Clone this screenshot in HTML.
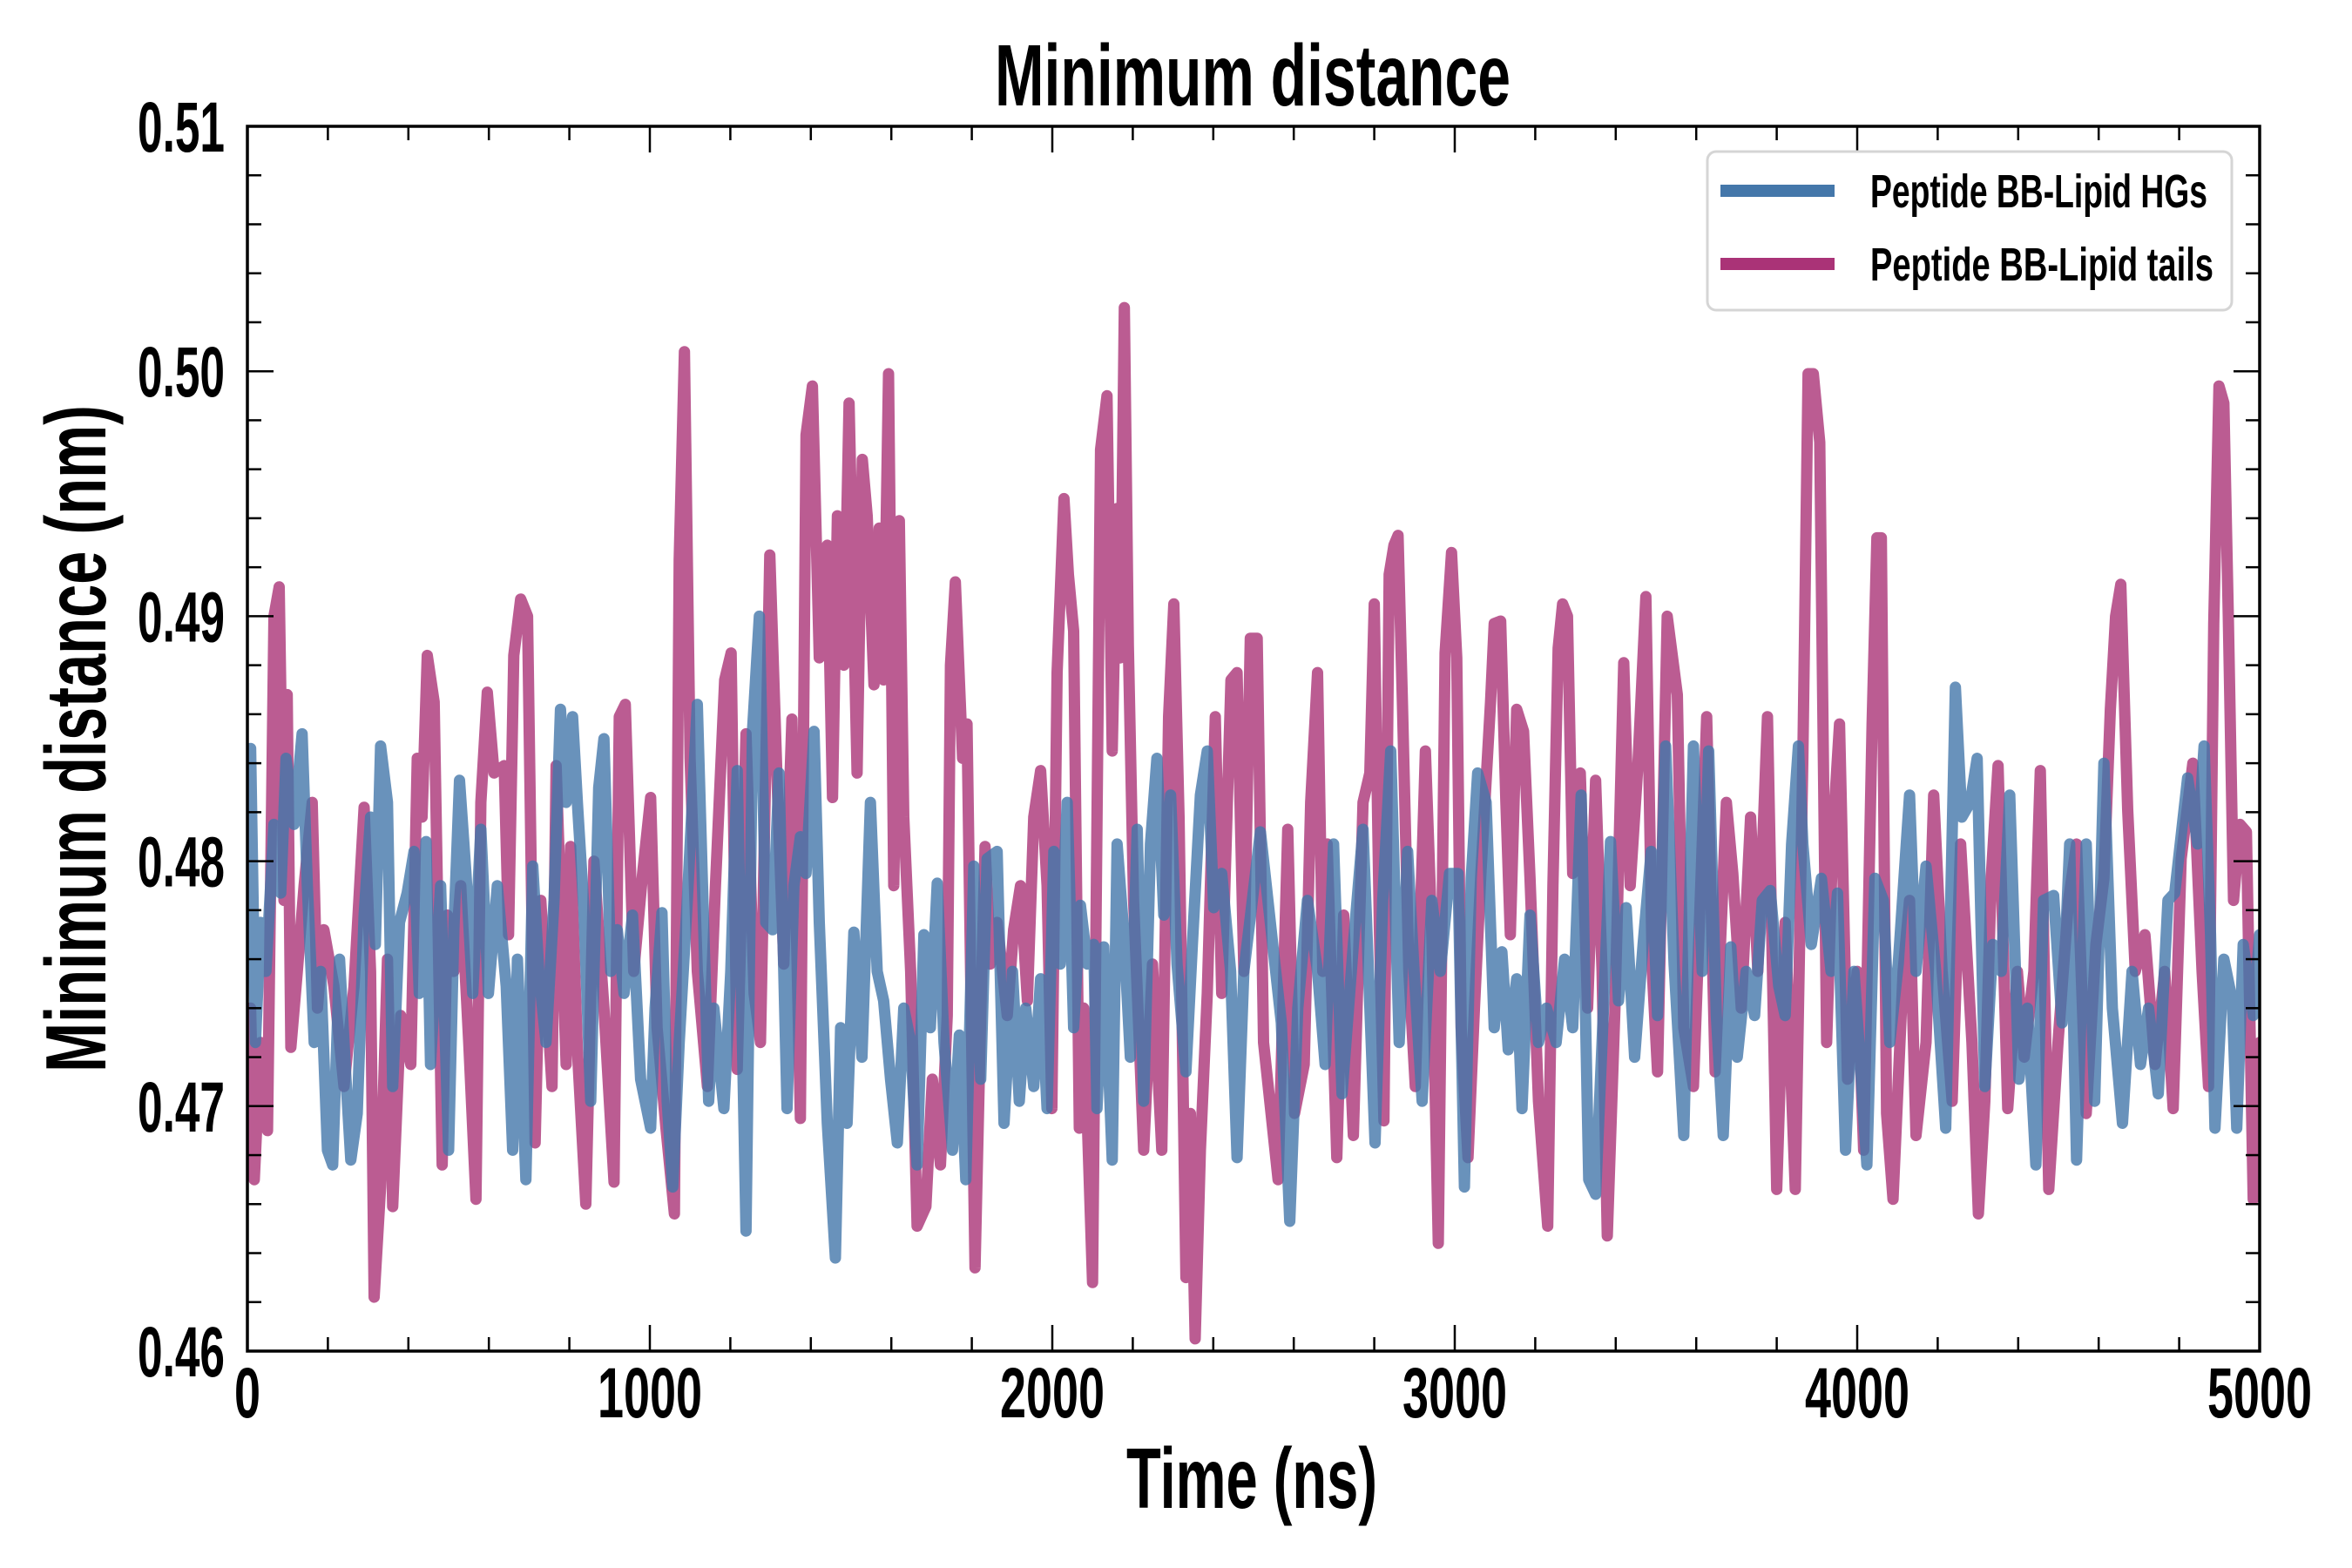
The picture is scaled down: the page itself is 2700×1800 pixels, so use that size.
<!DOCTYPE html>
<html><head><meta charset="utf-8"><style>
html,body{margin:0;padding:0;background:#fff;}
svg{display:block;}
text{font-family:"Liberation Sans Narrow","Liberation Sans",sans-serif;font-weight:bold;fill:#000;}
</style></head><body>
<svg id="chart" width="2700" height="1800" viewBox="0 0 2700 1800" xmlns="http://www.w3.org/2000/svg">
<defs><clipPath id="plotclip"><rect x="284" y="145" width="2310" height="1406"/></clipPath></defs>
<rect x="0" y="0" width="2700" height="1800" fill="#fff"/>
<text x="1142" y="121" font-size="100" textLength="592" lengthAdjust="spacingAndGlyphs">Minimum distance</text>
<text x="1293" y="1731" font-size="98" textLength="288" lengthAdjust="spacingAndGlyphs">Time (ns)</text>
<text transform="translate(121,1231) rotate(-90)" x="0" y="0" font-size="98" textLength="766" lengthAdjust="spacingAndGlyphs">Minimum distance (nm)</text>
<g id="series" clip-path="url(#plotclip)"></g>
<g id="axes"></g>
<g>
<rect x="1960" y="174" width="602" height="182" rx="10" fill="#fff" fill-opacity="0.85" stroke="#d5d5d5" stroke-width="3"/>
<line x1="1975" y1="219" x2="2106" y2="219" stroke="#4477aa" stroke-width="14"/>
<text x="2147" y="238" font-size="54" textLength="387" lengthAdjust="spacingAndGlyphs">Peptide BB-Lipid HGs</text>
<line x1="1975" y1="303" x2="2106" y2="303" stroke="#aa3377" stroke-width="14"/>
<text x="2147" y="322" font-size="54" textLength="394" lengthAdjust="spacingAndGlyphs">Peptide BB-Lipid tails</text>
</g>
</svg>
<script>
const xTicks = [0, 1000, 2000, 3000, 4000, 5000];
const xTickLabels = ["0", "1000", "2000", "3000", "4000", "5000"];
const yTicks = [0.46, 0.47, 0.48, 0.49, 0.50, 0.51];
const yTickLabels = ["0.46", "0.47", "0.48", "0.49", "0.50", "0.51"];

const tailsTime = [8,17,33,50,66,79,91,99,108,124,141,161,174,190,215,240,265,290,306,315,331,348,361,381,406,422,434,447,464,484,497,513,530,550,568,580,596,613,638,649,662,679,696,715,729,745,757,767,792,803,820,841,861,886,911,924,939,960,982,1002,1018,1040,1061,1073,1086,1100,1118,1143,1163,1186,1202,1217,1239,1259,1275,1298,1318,1333,1353,1374,1388,1404,1421,1441,1454,1466,1482,1495,1515,1528,1540,1557,1570,1581,1593,1606,1620,1631,1648,1664,1686,1702,1722,1739,1747,1759,1777,1788,1797,1808,1822,1833,1846,1863,1888,1904,1921,1938,1954,1971,1987,1999,2012,2029,2040,2053,2067,2078,2100,2120,2136,2149,2161,2169,2179,2189,2202,2227,2249,2272,2289,2302,2315,2332,2343,2355,2368,2385,2405,2421,2444,2459,2476,2492,2509,2525,
2561,2585,2602,2626,2642,2659,2672,2683,2707,2724,2748,2772,2789,2800,2813,2824,2837,2849,2859,2870,2886,2902,2927,2943,2959,2976,2992,3005,3016,3033,3049,3065,3089,3098,3114,3127,3138,3154,3171,3187,3208,3231,3244,3257,3268,3280,3293,3312,3330,3350,3366,3379,3398,3420,3436,3455,3475,3491,3504,3528,3553,3569,3593,3610,3626,3647,3675,3691,3712,3735,3753,3777,3800,3821,3846,3865,3878,3891,3907,3924,3940,3956,3976,4000,4016,4037,4049,4060,4073,4089,4114,4130,4146,4171,4190,4211,4236,4257,4285,4301,4317,4333,4350,4374,4398,4415,4439,4455,4476,4499,4525,4545,4569,4593,4613,4629,4642,4655,4672,4691,4715,4740,4764,4785,4805,4834,4857,4873,4886,4899,4911,4922,4935,4951,4967,4984,5000];
const tailsValues = [0.474,0.467,0.4726,0.469,0.490,0.4912,0.4784,0.4868,0.4724,0.4755,0.479,0.4824,0.474,0.4772,0.4749,0.4708,0.4749,0.4822,0.4755,0.4622,0.4667,0.4760,0.4659,0.4737,0.4717,0.4842,0.4818,0.4884,0.4865,0.4676,0.4778,0.4755,0.479,0.4726,0.4662,0.4824,0.4869,0.4836,0.4839,0.4770,0.4884,0.4907,0.4900,0.4685,0.4784,0.474,0.4708,0.4839,0.4717,0.4806,0.4723,0.4660,0.4800,0.474,0.4669,0.4859,0.4864,0.4755,0.4795,0.4826,0.4732,0.4691,0.4656,0.4923,0.5008,0.4842,0.4755,0.4708,0.479,0.4874,0.4885,0.4715,0.4852,0.4746,0.4726,0.4925,0.4824,0.4758,0.4858,0.4695,0.4974,0.4994,0.4883,0.4929,0.4826,0.4941,0.4880,0.4987,0.4836,0.4964,0.4941,0.4872,0.4936,0.4874,0.4999,0.479,0.4939,0.4818,0.4755,0.4651,0.4659,0.4711,0.4676,0.4737,0.4880,0.4914,0.4842,0.4856,0.4755,0.4634,0.4737,0.4806,0.4758,0.4775,0.4737,0.4772,0.479,0.4743,0.4818,0.4837,0.479,0.4699,0.4877,0.4948,0.4917,0.4894,0.4691,0.474,0.4628,0.4968,0.4990,0.4845,0.4944,0.4883,0.5026,0.4888,0.4784,0.4682,0.4758,0.4682,0.4859,0.4905,0.4818,0.4630,0.4697,0.4605,0.4682,0.4746,0.4859,0.4746,0.4874,0.4877,0.4755,0.4891,0.4891,0.4726,
0.467,0.4813,0.4697,0.4717,0.4824,0.4877,0.4755,0.4807,0.4679,0.4778,0.4688,0.4824,0.4836,0.4905,0.4770,0.4694,0.4917,0.4929,0.4933,0.4865,0.4755,0.4708,0.4845,0.477,0.4644,0.4885,0.4926,0.4883,0.4732,0.4679,0.474,0.4795,0.4865,0.4897,0.4898,0.4824,0.477,0.4862,0.4853,0.4793,0.4702,0.4651,0.479,0.4887,0.4905,0.4900,0.4795,0.4836,0.474,0.4833,0.4755,0.4647,0.474,0.4881,0.479,0.4839,0.4908,0.4755,0.4714,0.4900,0.4868,0.4732,0.4708,0.4784,0.4859,0.4714,0.4824,0.4795,0.474,0.4818,0.4755,0.4859,0.4666,0.4775,0.4666,0.4842,0.4999,0.4999,0.4971,0.4726,0.4813,0.4856,0.4711,0.4755,0.4682,0.4856,0.4932,0.4932,0.4697,0.4662,0.4755,0.4784,0.4688,0.4726,0.4827,0.4755,0.4702,0.4807,0.4726,0.4656,0.4702,0.4793,0.4839,0.4699,0.4755,0.4720,0.4755,0.4837,0.4666,0.4726,0.4784,0.4807,0.4697,0.4766,0.4793,0.4862,0.4900,0.4913,0.4821,0.4755,0.477,0.4717,0.4755,0.4699,0.4801,0.4840,0.4755,0.4708,0.4897,0.4994,0.4987,0.4900,0.4784,0.4815,0.4812,0.4662,0.4726];

const hgsTime = [8,20,33,46,66,83,96,116,136,149,166,182,199,212,229,245,257,273,290,306,318,331,348,361,378,397,414,427,444,455,480,500,513,527,543,560,580,599,621,643,659,671,692,709,724,742,762,778,792,808,820,836,853,873,886,903,919,936,957,977,1002,1013,1030,1043,1057,1073,1093,1118,1134,1146,1159,1184,1201,1217,1239,1255,1272,1288,1305,1321,1341,1358,1374,1388,1408,1421,1441,1461,1474,1490,1507,1527,1548,1565,1581,1598,1615,1631,1648,1664,1681,1697,1714,1731,1752,1769,1785,1805,1822,1838,1863,1880,1901,1918,1934,1954,1971,1987,2004,2020,2037,2053,2070,2087,2103,2111,2128,2149,2161,2178,2194,2211,2227,2244,2260,2277,2294,2310,2332,2348,2368,2385,2401,2421,2443,2459,2476,2497,2517,
2569,2590,2610,2634,2659,2678,2699,2720,2748,2772,2802,2821,2841,2862,2883,2899,2919,2943,2964,2987,3008,3024,3041,3057,3078,3098,3117,3133,3154,3167,3187,3208,3228,3252,3273,3293,3314,3333,3350,3366,3387,3407,3426,3447,3468,3488,3504,3524,3545,3569,3593,3615,3631,3650,3667,3686,3702,3724,3745,3764,3784,3805,3821,3837,3854,3865,3886,3911,3935,3951,3971,3992,4008,4024,4044,4065,4081,4102,4130,4146,4171,4195,4220,4244,4260,4281,4298,4317,4337,4358,4379,4402,4423,4444,4463,4488,4509,4528,4545,4569,4590,4613,4634,4659,4683,4704,4724,4748,4772,4789,4821,4846,4862,4878,4889,4911,4932,4943,4959,4984,5000];
const hgsValues = [0.4846,0.4726,0.4775,0.4755,0.4815,0.4787,0.4842,0.4815,0.4852,0.479,0.4726,0.4755,0.4682,0.4676,0.476,0.4711,0.4678,0.4697,0.4778,0.4818,0.4766,0.4847,0.4824,0.4708,0.4775,0.4787,0.4804,0.4746,0.4808,0.4717,0.479,0.4682,0.4772,0.4833,0.4795,0.4746,0.4813,0.4746,0.479,0.4749,0.4682,0.476,0.4670,0.4798,0.4755,0.4726,0.4784,0.4862,0.4824,0.4859,0.4824,0.4781,0.4702,0.4830,0.4850,0.4755,0.4772,0.4746,0.4778,0.4711,0.4691,0.474,0.4779,0.4702,0.4667,0.4726,0.4784,0.4864,0.4772,0.4702,0.474,0.4699,0.4755,0.4837,0.4649,0.4853,0.4900,0.4775,0.4772,0.4836,0.4699,0.479,0.4810,0.4795,0.4853,0.4775,0.4693,0.4638,0.4732,0.4693,0.4771,0.4720,0.4824,0.4755,0.4743,0.4711,0.4685,0.474,0.4726,0.4676,0.477,0.4732,0.4791,0.4726,0.4682,0.4729,0.4670,0.4798,0.4711,0.4801,0.4804,0.4693,0.4755,0.4702,0.474,0.4708,0.4752,0.4699,0.4804,0.4758,0.4824,0.4732,0.4782,0.4758,0.4766,0.4699,0.4765,0.4678,0.4807,0.477,0.4720,0.4813,0.4702,0.4807,0.4842,0.4778,0.4827,0.4758,0.4714,0.4766,0.4827,0.4845,0.4781,0.4795,0.4755,0.4679,0.4755,0.4784,0.4812,
0.4734,0.4653,0.474,0.4784,0.4755,0.4717,0.4807,0.4705,0.4766,0.4813,0.4685,0.4784,0.4845,0.4726,0.4804,0.4755,0.4702,0.4784,0.4755,0.4795,0.4795,0.4667,0.4793,0.4836,0.4824,0.4732,0.4763,0.4723,0.4752,0.4699,0.4778,0.4726,0.474,0.4726,0.476,0.4732,0.4827,0.4670,0.4664,0.4726,0.4808,0.4743,0.4781,0.4720,0.4766,0.4804,0.4737,0.4847,0.4758,0.4688,0.4847,0.4755,0.4845,0.4737,0.4688,0.4765,0.4720,0.4755,0.4737,0.4784,0.4788,0.4749,0.4737,0.4807,0.4847,0.4807,0.4766,0.4793,0.4755,0.4787,0.4682,0.4755,0.4717,0.4676,0.4793,0.4784,0.4726,0.4758,0.4827,0.4755,0.4798,0.4755,0.4691,0.4871,0.4818,0.4824,0.4842,0.4708,0.4766,0.4755,0.4827,0.4711,0.474,0.4676,0.4784,0.4786,0.4734,0.4807,0.4678,0.4807,0.4702,0.4840,0.474,0.4693,0.4755,0.4717,0.474,0.4705,0.4784,0.4787,0.4834,0.4807,0.4847,0.477,0.4691,0.476,0.4743,0.4691,0.4766,0.4737,0.477];

const NS = "http://www.w3.org/2000/svg";
const PL = 284, PR = 2594, PT = 145, PB = 1551;
function xs(t){ return PL + (t - 0) / 5000 * (PR - PL); }
function ys(v){ return PB - (v - 0.46) / 0.05 * (PB - PT); }
function mk(tag, attrs){ const e = document.createElementNS(NS, tag); for (const k in attrs) e.setAttribute(k, attrs[k]); return e; }

const series = document.getElementById('series');
function drawLine(times, vals, color, name){
  let d = "";
  for (let i = 0; i < times.length; i++) d += (i ? "L" : "M") + xs(times[i]).toFixed(1) + " " + ys(vals[i]).toFixed(1);
  const p = mk('path', {d: d, fill: 'none', stroke: color, 'stroke-width': 13, 'stroke-linejoin': 'round', 'stroke-linecap': 'round', 'stroke-opacity': 0.8});
  
  
  series.appendChild(p);
}
drawLine(tailsTime, tailsValues, '#aa3377', 'lipid-tails-line');
drawLine(hgsTime, hgsValues, '#4477aa', 'lipid-hgs-line');

const axes = document.getElementById('axes');
const frame = mk('rect', {x: PL, y: PT, width: PR - PL, height: PB - PT, fill: 'none', stroke: '#000', 'stroke-width': 3.5});


axes.appendChild(frame);

for (let t = 0; t <= 5000; t += 200) {
  const major = t % 1000 === 0;
  const L = major ? 30 : 16;
  const x = xs(t);
  const b = mk('line', {x1: x, y1: PB, x2: x, y2: PB - L, stroke: '#000', 'stroke-width': 2.5});
  
  
  axes.appendChild(b);
  const tp = mk('line', {x1: x, y1: PT, x2: x, y2: PT + L, stroke: '#000', 'stroke-width': 2.5});
  
  
  axes.appendChild(tp);
}
for (let i = 0; i <= 25; i++) {
  const v = 0.46 + i * 0.002;
  const major = i % 5 === 0;
  const L = major ? 30 : 16;
  const y = ys(v);
  const l = mk('line', {x1: PL, y1: y, x2: PL + L, y2: y, stroke: '#000', 'stroke-width': 2.5});
  
  
  axes.appendChild(l);
  const r = mk('line', {x1: PR, y1: y, x2: PR - L, y2: y, stroke: '#000', 'stroke-width': 2.5});
  
  
  axes.appendChild(r);
}
xTicks.forEach((t, i) => {
  const lab = xTickLabels[i];
  const w = lab.length * 30;
  const tx = mk('text', {x: xs(t), y: 1627, 'font-size': 82, 'text-anchor': 'middle', textLength: w, lengthAdjust: 'spacingAndGlyphs'});
  tx.textContent = lab;
  
  
  axes.appendChild(tx);
});
yTicks.forEach((v, i) => {
  const tx = mk('text', {x: 258, y: ys(v) + 29, 'font-size': 82, 'text-anchor': 'end', textLength: 100, lengthAdjust: 'spacingAndGlyphs'});
  tx.textContent = yTickLabels[i];
  
  
  axes.appendChild(tx);
});
</script>
</body></html>
